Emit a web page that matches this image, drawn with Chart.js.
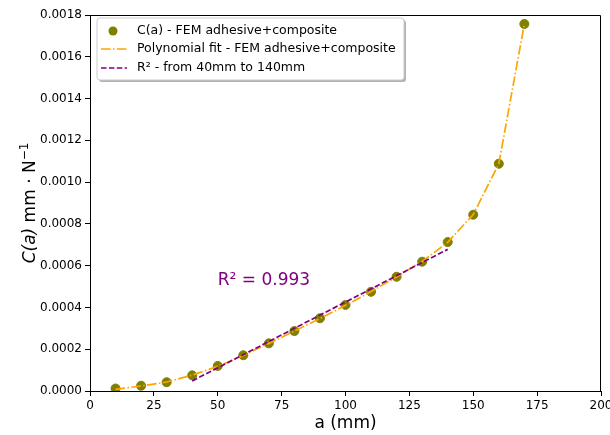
<!DOCTYPE html>
<html>
<head>
<meta charset="utf-8">
<script src="https://cdn.jsdelivr.net/npm/chart.js@4"></script>
<style>
  html, body { margin: 0; padding: 0; background: #fff; }
  #wrap { width: 610px; height: 435px; }
</style>
</head>
<body>
<div id="wrap"><canvas id="chart" width="610" height="435"></canvas></div>
<script>
// crack length a (mm)
const crackLength = [10, 20, 30, 40, 50, 60, 70, 80, 90, 100, 110, 120, 130, 140, 150, 160, 170];
// compliance C(a) from FEM
const femCompliance = [0.000012, 0.000025, 0.000042, 0.000075, 0.000120, 0.000171, 0.000228, 0.000287, 0.000348,
    0.000412, 0.000475, 0.000547, 0.000619, 0.000713, 0.000844, 0.001088, 0.001757];
// polynomial fit evaluated at same a
const polyFit = [0.000008, 0.000024, 0.000043, 0.000076, 0.000118, 0.000170, 0.000228, 0.000287, 0.000347,
    0.000410, 0.000476, 0.000546, 0.000620, 0.000712, 0.000845, 0.001088, 0.001757];
// linear fit between 40 and 140 mm
const linX = [40, 140];
const linY = [0.000048, 0.000678];
const xTicks = [0, 25, 50, 75, 100, 125, 150, 175, 200];
const r2Label = 'R² = 0.993';

const FONT = 'DejaVu Sans';

const toPts = (xs, ys) => xs.map((x, i) => ({ x: x, y: ys[i] }));

// frame, y title, annotation and legend drawn on top
const extras = {
    id: 'extras',
    afterDraw(chart) {
        const { ctx, chartArea: a, scales } = chart;
        ctx.save();
        // top / right spines
        ctx.strokeStyle = '#000';
        ctx.lineWidth = 1;
        ctx.beginPath();
        ctx.moveTo(a.left, a.top + 0.5);
        ctx.lineTo(a.right - 0.5, a.top + 0.5);
        ctx.lineTo(a.right - 0.5, a.bottom);
        ctx.stroke();

        // y axis title: italic C(a), upright units, superscript -1
        ctx.save();
        ctx.translate(29, (a.top + a.bottom) / 2);
        ctx.rotate(-Math.PI / 2);
        ctx.fillStyle = '#000';
        ctx.textBaseline = 'alphabetic';
        const parts = [
            { t: 'C(a)', f: 'italic 17px "' + FONT + '"', dy: 0 },
            { t: ' mm · N', f: '17px "' + FONT + '"', dy: 0 },
            { t: '−1', f: '12px "' + FONT + '"', dy: -7 }
        ];
        let total = 0;
        parts.forEach(p => { ctx.font = p.f; p.w = ctx.measureText(p.t).width; total += p.w; });
        let px = -total / 2;
        parts.forEach(p => { ctx.font = p.f; ctx.fillText(p.t, px, 6 + p.dy); px += p.w; });
        ctx.restore();

        // R² text
        ctx.fillStyle = '#800080';
        ctx.font = '17px "' + FONT + '"';
        ctx.textBaseline = 'middle';
        ctx.textAlign = 'left';
        ctx.fillText(r2Label, scales.x.getPixelForValue(50), scales.y.getPixelForValue(0.000527));

        // legend box
        const bx = 97, by = 18, bw = 307, bh = 62;
        ctx.fillStyle = 'rgba(0,0,0,0.3)';
        roundRect(ctx, bx + 2, by + 2, bw, bh, 3); ctx.fill();
        ctx.fillStyle = '#fff';
        ctx.strokeStyle = '#ccc';
        roundRect(ctx, bx, by, bw, bh, 3); ctx.fill(); ctx.stroke();

        const rows = [31, 49, 68];
        const labels = chart.data.datasets.map(d => d.label);
        ctx.font = '12.5px "' + FONT + '"';
        ctx.fillStyle = '#000';
        labels.forEach((t, i) => ctx.fillText(t, 137, rows[i]));
        // marker
        ctx.fillStyle = '#808000';
        ctx.beginPath(); ctx.arc(113, rows[0], 4.5, 0, Math.PI * 2); ctx.fill();
        // line samples
        ctx.lineWidth = 1.5;
        ctx.strokeStyle = '#FFA500';
        ctx.setLineDash([9.6, 2.4, 1.5, 2.4]);
        ctx.beginPath(); ctx.moveTo(101, rows[1]); ctx.lineTo(127, rows[1]); ctx.stroke();
        ctx.strokeStyle = '#800080';
        ctx.setLineDash([5.5, 2.4]);
        ctx.beginPath(); ctx.moveTo(101, rows[2]); ctx.lineTo(127, rows[2]); ctx.stroke();
        ctx.restore();
    }
};

function roundRect(ctx, x, y, w, h, r) {
    ctx.beginPath();
    ctx.moveTo(x + r, y);
    ctx.arcTo(x + w, y, x + w, y + h, r);
    ctx.arcTo(x + w, y + h, x, y + h, r);
    ctx.arcTo(x, y + h, x, y, r);
    ctx.arcTo(x, y, x + w, y, r);
    ctx.closePath();
}

new Chart(document.getElementById('chart'), {
    type: 'scatter',
    data: {
        datasets: [{
            label: 'C(a) - FEM adhesive+composite',
            data: toPts(crackLength, femCompliance),
            backgroundColor: '#808000',
            borderColor: '#808000',
            pointRadius: 4.5,
            showLine: false,
            order: 3
        }, {
            label: 'Polynomial fit - FEM adhesive+composite',
            data: toPts(crackLength, polyFit),
            borderColor: '#FFA500',
            borderWidth: 1.7,
            borderDash: [9.6, 2.4, 1.5, 2.4],
            pointRadius: 0,
            showLine: true,
            order: 2
        }, {
            label: 'R² - from 40mm to 140mm',
            data: toPts(linX, linY),
            borderColor: '#800080',
            borderWidth: 1.7,
            borderDash: [5.5, 2.4],
            pointRadius: 0,
            showLine: true,
            order: 1
        }]
    },
    options: {
        responsive: false,
        animation: false,
        layout: { padding: { top: 15, right: 0, left: 0, bottom: 0 } },
        plugins: { legend: { display: false }, tooltip: { enabled: false } },
        scales: {
            x: {
                type: 'linear', min: 0, max: 200,
                afterBuildTicks: s => { s.ticks = xTicks.map(v => ({ value: v })); },
                afterFit: s => { s.height = 44; s.paddingRight = 9; s.paddingLeft = 0; },
                grid: { drawOnChartArea: false, drawTicks: true, tickLength: 5, color: '#000' },
                border: { color: '#000', width: 1 },
                ticks: { color: '#000', font: { family: FONT, size: 12 }, padding: 3, maxRotation: 0 },
                title: { display: true, text: 'a (mm)', color: '#000', font: { family: FONT, size: 17 }, padding: { top: 0, bottom: 1 } }
            },
            y: {
                type: 'linear', min: 0, max: 0.0018,
                afterFit: s => { s.width = 90; s.paddingTop = 0; s.paddingBottom = 0; },
                grid: { drawOnChartArea: false, drawTicks: true, tickLength: 5, color: '#000' },
                border: { color: '#000', width: 1 },
                ticks: {
                    stepSize: 0.0002, color: '#000', font: { family: FONT, size: 12 }, padding: 3,
                    callback: v => v.toFixed(4)
                },
                title: { display: false }
            }
        }
    },
    plugins: [extras]
});
</script>
</body>
</html>
